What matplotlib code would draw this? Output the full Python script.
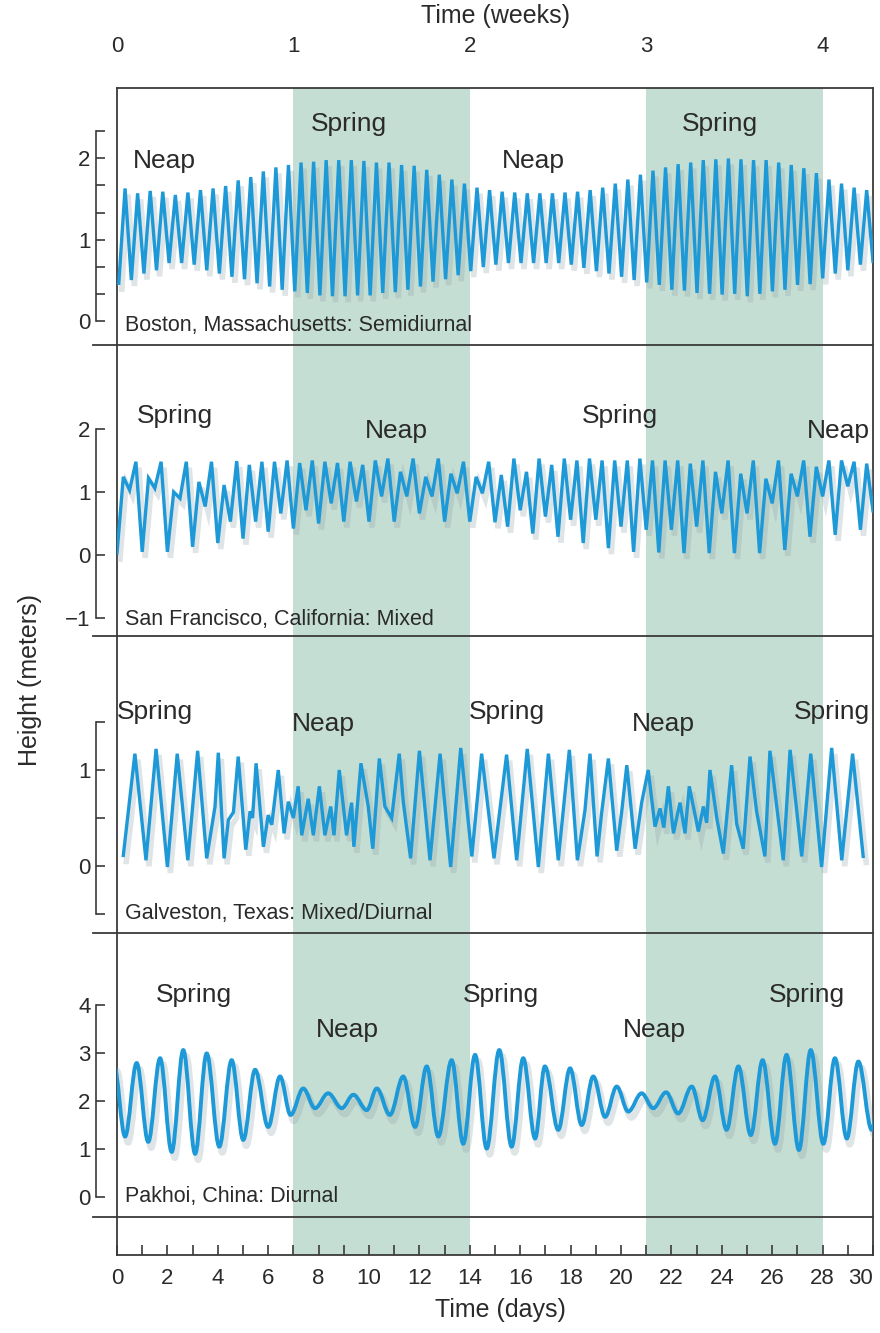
import matplotlib
matplotlib.use("Agg")
import matplotlib.pyplot as plt
import matplotlib.transforms as mtransforms
from matplotlib.path import Path
from matplotlib.patches import PathPatch
from matplotlib.lines import Line2D

plt.rcParams['font.family'] = ['Liberation Sans', 'DejaVu Sans']

# ---------------- data ----------------
# Boston: semidiurnal, highs and lows alternate at a fixed step (days)
boston_first_high = 0.32
boston_step = 0.4988
boston_high = [1.63, 1.57, 1.60, 1.59, 1.55, 1.58, 1.61, 1.63, 1.66, 1.73, 1.77, 1.84, 1.89, 1.92, 1.95, 1.96, 1.98, 1.98, 1.98, 1.97, 1.95,
               1.95, 1.92, 1.91, 1.86, 1.80, 1.74, 1.69, 1.64, 1.61, 1.59, 1.58, 1.57, 1.57, 1.57, 1.58, 1.59, 1.61, 1.64, 1.69, 1.74, 1.80,
               1.85, 1.89, 1.93, 1.95, 1.98, 1.99, 2.00, 1.99, 1.98, 1.98, 1.95, 1.92, 1.88, 1.82, 1.74, 1.69, 1.64, 1.61]
boston_low = [0.46, 0.50, 0.58, 0.62, 0.71, 0.71, 0.69, 0.62, 0.58, 0.54, 0.51, 0.46, 0.42, 0.38, 0.36, 0.34, 0.31, 0.30, 0.30, 0.31, 0.31,
              0.34, 0.35, 0.38, 0.42, 0.48, 0.51, 0.56, 0.61, 0.66, 0.69, 0.71, 0.71, 0.71, 0.71, 0.71, 0.69, 0.65, 0.61, 0.58, 0.54, 0.50,
              0.47, 0.44, 0.38, 0.37, 0.34, 0.33, 0.32, 0.33, 0.30, 0.33, 0.36, 0.38, 0.44, 0.45, 0.52, 0.58, 0.62, 0.69, 0.73]

# San Francisco: mixed
sf_first_high = 0.25
sf_step = 0.5
sf_high = [1.24, 1.48, 1.22, 1.48, 1.00, 1.48, 1.16, 1.48, 1.11, 1.49, 1.43, 1.48, 1.48, 1.50, 1.46, 1.50, 1.48, 1.46, 1.48, 1.43, 1.50,
           1.53, 1.32, 1.53, 1.24, 1.53, 1.29, 1.48, 1.24, 1.48, 1.27, 1.53, 1.32, 1.53, 1.43, 1.53, 1.50, 1.53, 1.50, 1.50, 1.50, 1.53,
           1.50, 1.50, 1.50, 1.45, 1.50, 1.32, 1.50, 1.29, 1.50, 1.21, 1.50, 1.29, 1.50, 1.40, 1.50, 1.50, 1.48, 1.45]
sf_low = [0.03, 1.03, 0.05, 1.06, 0.05, 0.90, 0.13, 0.77, 0.19, 0.53, 0.26, 0.53, 0.37, 0.66, 0.42, 0.71, 0.50, 0.82, 0.53, 0.85, 0.53,
          0.93, 0.53, 0.93, 0.66, 0.93, 0.53, 0.98, 0.53, 0.98, 0.52, 0.45, 0.71, 0.34, 0.61, 0.29, 0.56, 0.19, 0.56, 0.11, 0.45, 0.05,
          0.40, 0.04, 0.40, 0.03, 0.45, 0.03, 0.66, 0.03, 0.66, 0.03, 0.82, 0.08, 0.93, 0.29, 0.93, 0.32, 1.09, 0.40, 0.70]

# Galveston: mixed / diurnal (turning points, day and height)
galv_day = [0.25, 0.71, 1.15, 1.55, 2.00, 2.39, 2.81, 3.20, 3.56, 3.89, 4.02, 4.25, 4.42, 4.62, 4.81, 5.11, 5.28, 5.38, 5.52, 5.81,
            6.00, 6.14, 6.40, 6.63, 6.80, 7.00, 7.19, 7.33, 7.59, 7.79, 8.03, 8.25, 8.48, 8.61, 8.82, 9.11, 9.31, 9.40, 9.68, 9.97,
            10.15, 10.41, 10.63, 10.90, 11.20, 11.36, 11.65, 12.00, 12.42, 12.82, 13.24, 13.64, 14.08, 14.47, 14.96, 15.46, 15.86,
            16.28, 16.72, 17.12, 17.51, 17.95, 18.27, 18.57, 18.77, 19.05, 19.23, 19.50, 19.83, 20.03, 20.23, 20.56, 20.82, 21.08,
            21.35, 21.55, 21.70, 21.88, 22.08, 22.34, 22.54, 22.71, 23.07, 23.27, 23.40, 23.53, 23.80, 24.06, 24.39, 24.59, 24.85,
            25.12, 25.38, 25.71, 25.91, 26.44, 26.71, 27.17, 27.53, 27.96, 28.36, 28.76, 29.19, 29.61]
galv_height = [0.11, 1.17, 0.06, 1.22, -0.01, 1.17, 0.06, 1.20, 0.08, 0.62, 1.18, 0.08, 0.48, 0.56, 1.14, 0.17, 0.57, 0.50, 1.07, 0.20,
               0.53, 0.43, 1.00, 0.34, 0.67, 0.50, 0.83, 0.32, 0.70, 0.32, 0.83, 0.32, 0.62, 0.32, 1.00, 0.32, 0.66, 0.20, 1.07, 0.62,
               0.18, 1.12, 0.62, 0.50, 1.17, 0.67, 0.08, 1.20, 0.06, 1.17, -0.01, 1.23, 0.10, 1.17, 0.08, 1.16, 0.06,
               1.22, -0.01, 1.17, 0.06, 1.21, 0.06, 0.58, 1.17, 0.10, 0.55, 1.12, 0.16, 0.57, 1.05, 0.18, 0.66, 1.00,
               0.41, 0.60, 0.40, 0.83, 0.34, 0.66, 0.34, 0.83, 0.36, 0.62, 0.45, 1.00, 0.50, 0.13, 1.05, 0.44, 0.18,
               1.14, 0.57, 0.10, 1.20, 0.06, 1.21, 0.10, 1.17, -0.01, 1.23, 0.06, 1.17, 0.10]

# Pakhoi: diurnal (turning points, smooth curve)
pak_day = [-0.12, 0.32, 0.78, 1.24, 1.71, 2.17, 2.63, 3.10, 3.56, 4.06, 4.55, 5.01, 5.48, 6.00, 6.47, 6.89, 7.39, 7.86, 8.38, 8.92,
           9.38, 9.91, 10.31, 10.83, 11.36, 11.83, 12.29, 12.75, 13.28, 13.74, 14.21, 14.67, 15.17, 15.66, 16.12, 16.59, 16.98,
           17.51, 17.98, 18.44, 18.90, 19.37, 19.83, 20.29, 20.82, 21.28, 21.79, 22.27, 22.81, 23.24, 23.73, 24.19, 24.66, 25.15,
           25.62, 26.11, 26.57, 27.06, 27.53, 28.03, 28.49, 28.96, 29.42, 29.95, 30.4]
pak_height = [2.75, 1.26, 2.79, 1.15, 2.89, 0.94, 3.06, 0.90, 2.99, 1.05, 2.85, 1.19, 2.65, 1.46, 2.51, 1.71, 2.26, 1.85, 2.16, 1.85,
              2.13, 1.81, 2.26, 1.71, 2.51, 1.46, 2.72, 1.26, 2.85, 1.11, 2.96, 1.01, 3.06, 1.05, 2.89, 1.22, 2.72,
              1.40, 2.68, 1.50, 2.51, 1.67, 2.30, 1.78, 2.16, 1.85, 2.18, 1.74, 2.30, 1.60, 2.51, 1.40, 2.72, 1.29,
              2.85, 1.11, 2.96, 0.98, 3.06, 1.11, 2.89, 1.22, 2.82, 1.40, 2.75]

spring_spans = [(7, 14), (21, 28)]
station_names = ["Boston, Massachusetts: Semidiurnal", "San Francisco, California: Mixed",
                 "Galveston, Texas: Mixed/Diurnal", "Pakhoi, China: Diurnal"]
day_ticks = list(range(0, 31, 2))
week_ticks = [0, 1, 2, 3, 4]

# ---------------- style ----------------
blue = '#1d99d7'
shade = '#c5ded4'
frame_c = '#3a3a3a'
text_c = '#2a2a2a'
W_PX, H_PX = 880, 1333


def fx(px):
    return px / W_PX


def fy(px):
    return 1 - px / H_PX


def zigzag(first_high, step, highs, lows):
    t, v = [], []
    for k in range(len(lows)):
        t.append(first_high - step / 2 + k * step)
        v.append(lows[k])
        if k < len(highs):
            t.append(first_high + k * step)
            v.append(highs[k])
    return t, v


def smooth_path(t, v):
    verts = [(t[0], v[0])]
    codes = [Path.MOVETO]
    for i in range(len(t) - 1):
        dt = t[i + 1] - t[i]
        verts += [(t[i] + dt * 0.36, v[i]), (t[i + 1] - dt * 0.36, v[i + 1]), (t[i + 1], v[i + 1])]
        codes += [Path.CURVE4] * 3
    return Path(verts, codes)


def tick_text(t):
    if abs(t - round(t)) > 1e-6:
        return ""
    return ("%d" % round(t)).replace("-", "\u2212")


fig = plt.figure(figsize=(8.8, 13.33), dpi=100)

left, right, top, bottom = 117, 873, 88, 1255
ax_bg = fig.add_axes([fx(left), fy(bottom), fx(right) - fx(left), fy(top) - fy(bottom)])
ax_bg.set_xlim(0, 30)
ax_bg.set_ylim(0, 1)
for a, b in spring_spans:
    ax_bg.axvspan(a, b, color=shade, lw=0, zorder=0)
for s in ax_bg.spines.values():
    s.set_color(frame_c)
    s.set_linewidth(1.3)
ax_bg.set_yticks([])
ax_bg.set_xticks(day_ticks)
ax_bg.set_xticks(range(1, 30, 2), minor=True)
ax_bg.tick_params(axis='x', which='both', direction='in', length=7, width=1.2, color=frame_c,
                  labelsize=16, pad=9, labelcolor=text_c)
ax_bg.get_xticklabels()[-1].set_horizontalalignment('right')

sec = ax_bg.secondary_xaxis('top', functions=(lambda d: d / 7, lambda w: w * 7))
sec.set_xticks(week_ticks)
sec.tick_params(length=0, labelsize=16, pad=22, labelcolor=text_c)
sec.spines['top'].set_visible(False)

fig.text(fx(495), fy(16), "Time (weeks)", ha='center', va='center', fontsize=18, color=text_c)
fig.text(fx(500), fy(1310), "Time (days)", ha='center', va='center', fontsize=18, color=text_c)
fig.text(fx(30), fy(680), "Height (meters)", ha='center', va='center', rotation=90, fontsize=18, color=text_c)

# panel layout: pixel rows, y-limits, bracket bounds, ticks
panel_rows = [(88, 345), (345, 636), (636, 933), (933, 1217)]
panel_ylim = [(-0.302, 2.870), (-1.286, 3.333), (-0.698, 2.396), (-0.417, 5.5)]
panel_bounds = [(0, 7 / 3), (-1, 2), (-0.5, 1.5), (0, 4)]
panel_ticks = [[0, 1 / 3, 2 / 3, 1, 4 / 3, 5 / 3, 2, 7 / 3], [-1, 0, 1, 2],
               [-0.5, 0, 0.5, 1, 1.5], [0, 1, 2, 3, 4]]
panel_name_y = [-0.06, -1.03, -0.49, 0.02]
panel_marks = [
    [("Neap", 1.87, 1.97), ("Spring", 9.21, 2.43), ("Neap", 16.51, 1.97), ("Spring", 23.93, 2.43)],
    [("Spring", 2.30, 2.21), ("Neap", 11.07, 1.97), ("Spring", 19.96, 2.21), ("Neap", 28.61, 1.97)],
    [("Spring", 1.51, 1.60), ("Neap", 8.17, 1.48), ("Spring", 15.48, 1.60), ("Neap", 21.67, 1.48), ("Spring", 28.37, 1.60)],
    [("Spring", 3.06, 4.21), ("Neap", 9.13, 3.48), ("Spring", 15.24, 4.21), ("Neap", 21.31, 3.48), ("Spring", 27.38, 4.21)],
]

series = [
    zigzag(boston_first_high, boston_step, boston_high, boston_low),
    zigzag(sf_first_high, sf_step, sf_high, sf_low),
    (galv_day, galv_height),
    None,
]

for i, (ptop, pbot) in enumerate(panel_rows):
    ax = fig.add_axes([fx(left), fy(pbot), fx(right) - fx(left), fy(ptop) - fy(pbot)], facecolor='none')
    ax.set_xlim(0, 30)
    ax.set_ylim(*panel_ylim[i])
    for side in ['top', 'right', 'bottom']:
        ax.spines[side].set_visible(False)
    ax.spines['left'].set_position(('outward', 15))
    ax.spines['left'].set_bounds(*panel_bounds[i])
    ax.spines['left'].set_color(frame_c)
    ax.spines['left'].set_linewidth(1.2)
    ax.set_xticks([])
    ax.set_yticks(panel_ticks[i])
    ax.set_yticklabels([tick_text(t) for t in panel_ticks[i]])
    ax.tick_params(axis='y', direction='in', length=6.5, width=1.2, color=frame_c,
                   labelsize=16, pad=4, labelcolor=text_c)

    shadow = mtransforms.offset_copy(ax.transData, fig=fig, x=3, y=-6, units='dots')
    if series[i] is not None:
        t, v = series[i]
        ax.plot(t, v, color='#8f9ea8', alpha=0.28, lw=4, transform=shadow, solid_joinstyle='miter')
        ax.plot(t, v, color=blue, lw=2.4, solid_joinstyle='miter')
    else:
        p = smooth_path(pak_day, pak_height)
        ax.add_patch(PathPatch(p, fill=False, ec='#8f9ea8', alpha=0.28, lw=4.5, transform=shadow))
        ax.add_patch(PathPatch(p, fill=False, ec=blue, lw=2.8))

    ax.text(0.32, panel_name_y[i], station_names[i], ha='left', va='center', fontsize=15.5, color=text_c)
    for label, d, h in panel_marks[i]:
        ax.text(d, h, label, ha='center', va='center', fontsize=19, color=text_c)

# separators between panels
for ysep in [345, 636, 933, 1217]:
    fig.add_artist(Line2D([fx(93), fx(right)], [fy(ysep), fy(ysep)], color=frame_c, lw=1.3))

fig.savefig("out.png", dpi=100)
